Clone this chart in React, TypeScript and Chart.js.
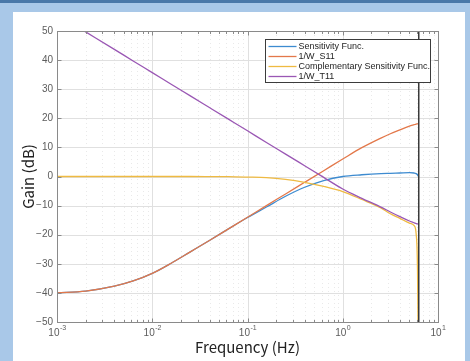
import React, { useEffect, useRef } from "react";
import { Chart, registerables } from "chart.js";

Chart.register(...registerables);

// ---- data ----
const freqHz = [
  0.001, 0.002, 0.004, 0.0063, 0.01, 0.0158, 0.0251, 0.0398, 0.0631, 0.1,
  0.158, 0.251, 0.398, 0.631, 1, 1.585, 2.512, 3.162, 3.981, 5.012, 5.623,
  5.888, 6.095, 6.28,
];
const sensitivity = [
  -40.0, -39.4, -37.7, -35.9, -33.3, -29.8, -25.9, -22.0, -18.0, -14.1,
  -10.5, -6.8, -3.7, -1.4, 0.0, 0.6, 1.0, 1.1, 1.2, 1.3, 1.2, 1.0, 0.6, -0.2,
];
const invWS11 = [
  -40.0, -39.4, -37.7, -35.9, -33.3, -29.8, -25.9, -22.0, -18.0, -14.0,
  -10.0, -6.0, -2.0, 2.0, 6.0, 9.9, 13.2, 14.7, 16.0, 17.3, 17.8, 18.0, 18.1,
  18.2,
];
const compSensitivity = [
  0, 0, 0, 0, 0, 0, 0, -0.02, -0.05, -0.2, -0.4, -1.0, -2.0, -3.4, -5.2, -7.9,
  -10.8, -12.8, -14.4, -16.0, -16.9, -19.5, -32, -80,
];
const invWT11 = [
  55.7, 49.7, 43.7, 39.7, 35.7, 31.7, 27.7, 23.7, 19.7, 15.7, 11.7, 7.7, 3.7,
  -0.3, -4.3, -7.5, -10.5, -12.2, -13.8, -15.3, -15.9, -16.15, -16.3, -16.35,
];
const cutoffHz = 6.28;
const cutoffGain = [-50, 50];

const seriesLabels = [
  "Sensitivity Func.",
  "1/W_S11",
  "Complementary Sensitivity Func.",
  "1/W_T11",
];
const seriesColors = ["#3d8bd0", "#e3784a", "#efba42", "#9a57b4"];

const yTicks = [-50, -40, -30, -20, -10, 0, 10, 20, 30, 40, 50];
const xDecades = [0.001, 0.01, 0.1, 1, 10];
const xExponents = ["-3", "-2", "-1", "0", "1"];
const xTitle = "Frequency (Hz)";
const yTitle = "Gain (dB)";

const TICK_FONT = "10px 'Liberation Sans', Arial, sans-serif";
const SUP_FONT = "7px 'Liberation Sans', Arial, sans-serif";
const TITLE_FONT = "15px 'Noto Sans CJK JP', 'Noto Sans', sans-serif";
const LEGEND_FONT = "9px 'Liberation Sans', Arial, sans-serif";

const fmtY = (v: number) => (v < 0 ? "\u2212" + Math.abs(v) : String(v));

const decorPlugin = {
  id: "decor",
  beforeDatasetsDraw(chart: any) {
    const { ctx, chartArea: a, scales } = chart;
    const x = scales.x;
    const y = scales.y;
    ctx.save();
    ctx.lineWidth = 1;
    // minor x grid (dotted)
    ctx.strokeStyle = "#e9e9e9";
    ctx.setLineDash([1, 3]);
    for (let d = 0; d < xDecades.length - 1; d++) {
      for (let m = 2; m <= 9; m++) {
        const px = Math.round(x.getPixelForValue(xDecades[d] * m)) + 0.5;
        ctx.beginPath();
        ctx.moveTo(px, a.top);
        ctx.lineTo(px, a.bottom);
        ctx.stroke();
      }
    }
    ctx.setLineDash([]);
    ctx.strokeStyle = "#e0e0e0";
    xDecades.forEach((v) => {
      const px = Math.round(x.getPixelForValue(v)) + 0.5;
      ctx.beginPath();
      ctx.moveTo(px, a.top);
      ctx.lineTo(px, a.bottom);
      ctx.stroke();
    });
    yTicks.forEach((v) => {
      const py = Math.round(y.getPixelForValue(v)) + 0.5;
      ctx.beginPath();
      ctx.moveTo(a.left, py);
      ctx.lineTo(a.right, py);
      ctx.stroke();
    });
    ctx.restore();
  },
  afterDatasetsDraw(chart: any) {
    const { ctx, chartArea: a, scales } = chart;
    const x = scales.x;
    const y = scales.y;
    ctx.save();
    // box
    ctx.strokeStyle = "#8a8a8a";
    ctx.lineWidth = 1;
    const L = Math.round(a.left) + 0.5;
    const R = Math.round(a.right) + 0.5;
    const T = Math.round(a.top) + 0.5;
    const B = Math.round(a.bottom) + 0.5;
    ctx.strokeRect(L, T, R - L, B - T);
    // ticks
    ctx.beginPath();
    yTicks.forEach((v) => {
      const py = Math.round(y.getPixelForValue(v)) + 0.5;
      ctx.moveTo(L, py);
      ctx.lineTo(L + 4, py);
      ctx.moveTo(R, py);
      ctx.lineTo(R - 4, py);
    });
    xDecades.forEach((v) => {
      const px = Math.round(x.getPixelForValue(v)) + 0.5;
      ctx.moveTo(px, B);
      ctx.lineTo(px, B - 4);
      ctx.moveTo(px, T);
      ctx.lineTo(px, T + 4);
    });
    for (let d = 0; d < xDecades.length - 1; d++) {
      for (let m = 2; m <= 9; m++) {
        const px = Math.round(x.getPixelForValue(xDecades[d] * m)) + 0.5;
        ctx.moveTo(px, B);
        ctx.lineTo(px, B - 2.5);
        ctx.moveTo(px, T);
        ctx.lineTo(px, T + 2.5);
      }
    }
    ctx.stroke();

    // y tick labels
    ctx.fillStyle = "#5c5c5c";
    ctx.font = TICK_FONT;
    ctx.textAlign = "right";
    ctx.textBaseline = "middle";
    yTicks.forEach((v) => {
      ctx.fillText(fmtY(v), a.left - 4, y.getPixelForValue(v));
    });
    // x tick labels 10^n
    ctx.textAlign = "left";
    xDecades.forEach((v, i) => {
      const px = x.getPixelForValue(v);
      ctx.font = TICK_FONT;
      const wBase = ctx.measureText("10").width;
      ctx.font = SUP_FONT;
      const wExp = ctx.measureText(xExponents[i]).width;
      const start = px - (wBase + wExp) / 2;
      ctx.font = TICK_FONT;
      ctx.fillText("10", start, a.bottom + 11);
      ctx.font = SUP_FONT;
      ctx.fillText(xExponents[i], start + wBase + 0.5, a.bottom + 6);
    });

    // axis titles
    ctx.fillStyle = "#222222";
    ctx.font = TITLE_FONT;
    ctx.textAlign = "center";
    ctx.textBaseline = "middle";
    ctx.fillText(xTitle, (a.left + a.right) / 2, a.bottom + 25);
    ctx.save();
    ctx.translate(28, (a.top + a.bottom) / 2);
    ctx.rotate(-Math.PI / 2);
    ctx.fillText(yTitle, 0, 0);
    ctx.restore();

    // legend
    const bx = Math.round(a.right) - 8 - 165 + 0.5;
    const by = Math.round(a.top) + 8 + 0.5;
    const bw = 165;
    const bh = 43;
    ctx.fillStyle = "#ffffff";
    ctx.fillRect(bx, by, bw, bh);
    ctx.strokeStyle = "#3c3c3c";
    ctx.lineWidth = 1;
    ctx.strokeRect(bx, by, bw, bh);
    ctx.font = LEGEND_FONT;
    ctx.textAlign = "left";
    ctx.textBaseline = "middle";
    seriesLabels.forEach((lab, i) => {
      const ry = by + 7 + i * 10;
      ctx.strokeStyle = seriesColors[i];
      ctx.lineWidth = 1.3;
      ctx.beginPath();
      ctx.moveTo(bx + 3, ry);
      ctx.lineTo(bx + 31, ry);
      ctx.stroke();
      ctx.fillStyle = "#1e1e1e";
      ctx.fillText(lab, bx + 33, ry + 0.5);
    });
    ctx.restore();
  },
};

export default function App() {
  const canvasRef = useRef<HTMLCanvasElement | null>(null);

  useEffect(() => {
    const canvas = canvasRef.current;
    if (!canvas) return;
    const series = [sensitivity, invWS11, compSensitivity, invWT11];
    const datasets: any[] = series.map((vals, i) => ({
      label: seriesLabels[i],
      data: freqHz.map((f, k) => ({ x: f, y: vals[k] })),
      borderColor: seriesColors[i],
      backgroundColor: seriesColors[i],
      borderWidth: 1.3,
      pointRadius: 0,
      fill: false,
      cubicInterpolationMode: "monotone",
      order: 4 - i,
    }));
    datasets.push({
      label: "cutoff",
      data: cutoffGain.map((g) => ({ x: cutoffHz, y: g })),
      borderColor: "#3a3a3a",
      borderWidth: 1.5,
      pointRadius: 0,
      fill: false,
      order: 0,
    });
    const chart = new Chart(canvas, {
      type: "line",
      data: { datasets },
      options: {
        responsive: false,
        animation: false,
        devicePixelRatio: 1,
        layout: { padding: { left: 57, top: 31, right: 32, bottom: 39 } },
        scales: {
          x: { type: "logarithmic", min: 0.001, max: 10, display: false },
          y: { type: "linear", min: -50, max: 50, display: false },
        },
        plugins: {
          legend: { display: false },
          tooltip: { enabled: false },
        },
      },
      plugins: [decorPlugin],
    } as any);
    return () => chart.destroy();
  }, []);

  return (
    <div
      style={{
        position: "fixed",
        left: 0,
        top: 0,
        width: 470,
        height: 361,
        background: "#a9c8e8",
        overflow: "hidden",
      }}
    >
      <div
        style={{
          position: "absolute",
          left: 0,
          top: 0,
          width: 470,
          height: 3,
          background: "#4a78a8",
        }}
      />
      <div
        style={{
          position: "absolute",
          left: 13,
          top: 12,
          width: 452,
          height: 349,
          background: "#ffffff",
        }}
      />
      <canvas
        ref={canvasRef}
        width={470}
        height={361}
        style={{ position: "absolute", left: 0, top: 0, width: 470, height: 361 }}
      />
    </div>
  );
}
